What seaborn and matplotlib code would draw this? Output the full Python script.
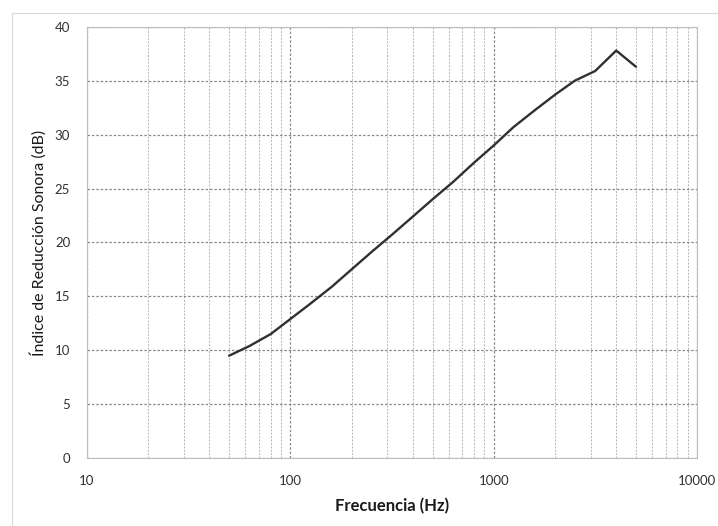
import numpy as np
import pandas as pd
import seaborn as sns
import matplotlib.pyplot as plt
from matplotlib.ticker import FixedLocator, FuncFormatter, LogLocator, NullFormatter
from matplotlib.patches import Rectangle

# bandas de tercio de octava (Hz) y valores
frecuencias = [50, 63, 80, 100, 125, 160, 200, 250, 315, 400, 500, 630, 800,
               1000, 1250, 1600, 2000, 2500, 3150, 4000, 5000]
indice_db = [9.5, 10.4, 11.5, 12.9, 14.3, 15.9, 17.5, 19.1, 20.7, 22.4, 24.0, 25.6,
             27.4, 29.0, 30.7, 32.3, 33.7, 35.0, 35.9, 37.8, 36.3]
y_ticks = [0, 5, 10, 15, 20, 25, 30, 35, 40]
x_ticks = [10, 100, 1000, 10000]

df = pd.DataFrame({'f': frecuencias, 'R': indice_db})

sns.set_style("white")
plt.rcParams['font.family'] = ['Lato', 'DejaVu Sans']

fig = plt.figure(figsize=(7.18, 5.26), dpi=100)
ax = fig.add_axes([0.121, 0.129, 0.850, 0.820])

sns.lineplot(data=df, x='f', y='R', color='#303030', linewidth=1.7, ax=ax)

ax.set_xscale('log')
ax.set_xlim(10, 10000)
ax.set_ylim(0, 40)
ax.xaxis.set_major_locator(FixedLocator(x_ticks))
ax.xaxis.set_major_formatter(FuncFormatter(lambda v, p: '%d' % v))
ax.xaxis.set_minor_locator(LogLocator(base=10, subs=np.arange(2, 10)))
ax.xaxis.set_minor_formatter(NullFormatter())
ax.set_yticks(y_ticks)

ax.grid(which='major', axis='both', color='#8a8a8a', linestyle=(0, (2, 1.5)), linewidth=0.9)
ax.grid(which='minor', axis='x', color='#b5b5b5', linestyle=(0, (2, 1.5)), linewidth=0.7)
ax.tick_params(which='both', length=0, labelsize=9.5, colors='#333333', pad=12)

for s in ax.spines.values():
    s.set_color('#bdbdbd')
    s.set_linewidth(0.8)

ax.set_xlabel('Frecuencia (Hz)', fontsize=12, fontweight='bold', color='#1a1a1a', labelpad=8)
ax.set_ylabel('Índice de Reducción Sonora (dB)', fontsize=11.5, color='#1a1a1a', labelpad=6)

# marco exterior del grafico
fig.patches.append(Rectangle((0.017, -0.01), 0.99, 0.985, transform=fig.transFigure,
                             fill=False, edgecolor='#d8d8d8', linewidth=0.8))

fig.savefig('out.png', dpi=100)
